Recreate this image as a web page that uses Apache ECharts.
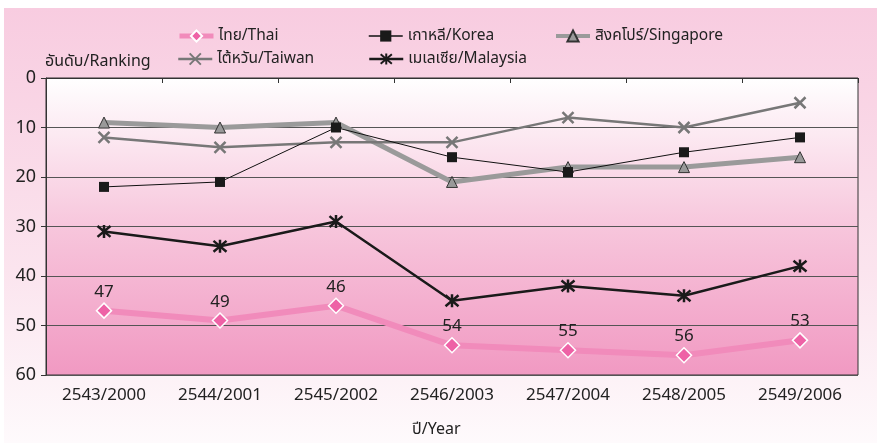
<!DOCTYPE html>
<html>
<head>
<meta charset="utf-8">
<script src="https://cdn.jsdelivr.net/npm/echarts@6/dist/echarts.min.js"></script>
<style>
  html, body { margin: 0; padding: 0; background: #ffffff; }
  #chart { width: 877px; height: 443px; }
</style>
</head>
<body>
<div id="chart"></div>
<script>
const years = ["2543/2000", "2544/2001", "2545/2002", "2546/2003", "2547/2004", "2548/2005", "2549/2006"];
const thai = [47, 49, 46, 54, 55, 56, 53];
const korea = [22, 21, 10, 16, 19, 15, 12];
const singapore = [9, 10, 9, 21, 18, 18, 16];
const taiwan = [12, 14, 13, 13, 8, 10, 5];
const malaysia = [31, 34, 29, 45, 42, 44, 38];
const rankTicks = [0, 10, 20, 30, 40, 50, 60];

const font = '"Noto Sans", "Noto Sans Thai", "DejaVu Sans", sans-serif';
const crossPath = "path://M0,0L10,10M10,0L0,10";
const starPath = "path://M0,0L10,10M10,0L0,10M5,-1L5,11";

const chart = echarts.init(document.getElementById("chart"));

function legendAt(name, left, top, lineWidth) {
  return {
    data: [{ name: name, lineStyle: { width: lineWidth } }],
    left: left,
    top: top,
    itemWidth: 34,
    itemHeight: 14,
    itemGap: 4,
    textStyle: { fontFamily: font, fontSize: 15.5, color: "#222" },
  };
}

chart.setOption({
  backgroundColor: "transparent",
  animation: false,
  graphic: [
    {
      type: "rect",
      z: -10,
      silent: true,
      shape: { x: 4, y: 8, width: 873, height: 435 },
      style: {
        fill: new echarts.graphic.LinearGradient(0, 0, 0, 1, [
          { offset: 0, color: "#f8cce0" },
          { offset: 0.6, color: "#fbe4ee" },
          { offset: 1, color: "#fefafc" },
        ]),
      },
    },
    {
      type: "text",
      left: 45,
      top: 53,
      style: { text: "อันดับ/Ranking", fontFamily: font, fontSize: 16, fill: "#222" },
    },
    {
      type: "text",
      left: 412,
      top: 421,
      style: { text: "ปี/Year", fontFamily: font, fontSize: 16, fill: "#222" },
    },
  ],
  legend: [
    legendAt("ไทย/Thai", 172, 23, 5),
    legendAt("เกาหลี/Korea", 363, 23, 1.5),
    legendAt("สิงคโปร์/Singapore", 549, 23, 4),
    legendAt("ไต้หวัน/Taiwan", 172, 46, 2.5),
    legendAt("เมเลเซีย/Malaysia", 363, 46, 2.5),
  ],
  grid: {
    left: 46,
    right: 19,
    top: 78,
    bottom: 68,
    show: true,
    borderColor: "#333",
    borderWidth: 1,
    backgroundColor: new echarts.graphic.LinearGradient(0, 0, 0, 1, [
      { offset: 0, color: "#ffffff" },
      { offset: 0.5, color: "#f7c6dc" },
      { offset: 1, color: "#f199c2" },
    ]),
  },
  xAxis: {
    type: "category",
    data: years,
    boundaryGap: true,
    axisLine: { lineStyle: { color: "#333", width: 1 } },
    axisTick: { show: true, length: 5, lineStyle: { color: "#333" } },
    axisLabel: { fontFamily: font, fontSize: 17, color: "#222", margin: 12 },
  },
  yAxis: {
    type: "value",
    inverse: true,
    min: rankTicks[0],
    max: rankTicks[rankTicks.length - 1],
    interval: 10,
    axisLine: { show: true, lineStyle: { color: "#333", width: 1 } },
    axisTick: { show: true, length: 5, lineStyle: { color: "#333" } },
    axisLabel: { fontFamily: font, fontSize: 18, color: "#222", margin: 10 },
    splitLine: { show: true, lineStyle: { color: "#555", width: 1 } },
  },
  series: [
    {
      name: "ไทย/Thai",
      type: "line",
      data: thai,
      z: 2,
      symbol: "diamond",
      symbolSize: 15,
      lineStyle: { color: "#f18bbb", width: 6 },
      itemStyle: { color: "#ee62a6", borderColor: "#ffffff", borderWidth: 1.5 },
      label: {
        show: true,
        position: "top",
        distance: 2,
        fontFamily: font,
        fontSize: 17,
        color: "#222",
      },
    },
    {
      name: "เกาหลี/Korea",
      type: "line",
      data: korea,
      z: 4,
      symbol: "rect",
      symbolSize: 10,
      lineStyle: { color: "#111", width: 1 },
      itemStyle: { color: "#1a1a1a" },
    },
    {
      name: "สิงคโปร์/Singapore",
      type: "line",
      data: singapore,
      z: 3,
      symbol: "triangle",
      symbolSize: 11,
      lineStyle: { color: "#9a9a9a", width: 5 },
      itemStyle: { color: "#999999", borderColor: "#333", borderWidth: 1 },
    },
    {
      name: "ไต้หวัน/Taiwan",
      type: "line",
      data: taiwan,
      z: 3,
      symbol: crossPath,
      symbolSize: 11,
      lineStyle: { color: "#777", width: 2.5 },
      itemStyle: { color: "#777", borderColor: "#777", borderWidth: 2.5 },
    },
    {
      name: "เมเลเซีย/Malaysia",
      type: "line",
      data: malaysia,
      z: 3,
      symbol: starPath,
      symbolSize: 13,
      lineStyle: { color: "#1a1a1a", width: 2.5 },
      itemStyle: { color: "#1a1a1a", borderColor: "#1a1a1a", borderWidth: 2.5 },
    },
  ],
});

window.addEventListener("resize", () => chart.resize());
</script>
</body>
</html>
